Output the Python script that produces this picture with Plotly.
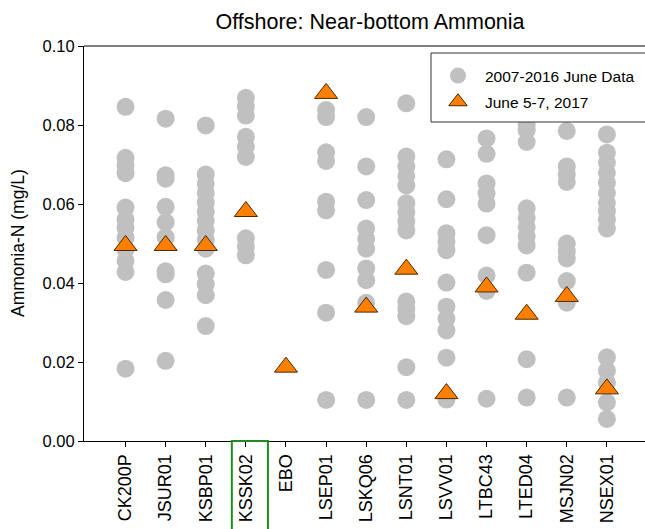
import plotly.graph_objects as go

categories = ["CK200P", "JSUR01", "KSBP01", "KSSK02", "EBO", "LSEP01", "LSKQ06",
              "LSNT01", "LSVV01", "LTBC43", "LTED04", "MSJN02", "NSEX01"]

# 2007-2016 June data (mg/L), per station
hist_CK200P = [0.0846, 0.0717, 0.0698, 0.0678, 0.0591, 0.0561, 0.0540, 0.0515, 0.0485, 0.0456, 0.0428, 0.0183]
hist_JSUR01 = [0.0816, 0.0673, 0.0664, 0.0593, 0.0554, 0.0516, 0.0430, 0.0422, 0.0357, 0.0203]
hist_KSBP01 = [0.0799, 0.0675, 0.0651, 0.0628, 0.0604, 0.0581, 0.0557, 0.0533, 0.0510, 0.0487,
               0.0424, 0.0397, 0.0369, 0.0291]
hist_KSSK02 = [0.0869, 0.0847, 0.0824, 0.0770, 0.0745, 0.0719, 0.0513, 0.0492, 0.0470]
hist_EBO = []
hist_LSEP01 = [0.0838, 0.0820, 0.0731, 0.0709, 0.0606, 0.0584, 0.0433, 0.0325, 0.0104]
hist_LSKQ06 = [0.0820, 0.0695, 0.0610, 0.0538, 0.0512, 0.0487, 0.0437, 0.0407, 0.0350, 0.0104]
hist_LSNT01 = [0.0855, 0.0720, 0.0695, 0.0671, 0.0647, 0.0602, 0.0579, 0.0556, 0.0533,
               0.0353, 0.0334, 0.0316, 0.0187, 0.0104]
hist_LSVV01 = [0.0713, 0.0612, 0.0526, 0.0505, 0.0483, 0.0401, 0.0340, 0.0310, 0.0280, 0.0211, 0.0105]
hist_LTBC43 = [0.0766, 0.0727, 0.0652, 0.0627, 0.0601, 0.0521, 0.0419, 0.0380, 0.0107]
hist_LTED04 = [0.0800, 0.0787, 0.0757, 0.0589, 0.0565, 0.0542, 0.0518, 0.0495, 0.0426, 0.0207, 0.0110]
hist_MSJN02 = [0.0785, 0.0695, 0.0675, 0.0656, 0.0500, 0.0481, 0.0462, 0.0405, 0.0350, 0.0110]
hist_NSEX01 = [0.0776, 0.0730, 0.0705, 0.0679, 0.0654, 0.0628, 0.0603, 0.0582, 0.0561, 0.0538,
               0.0212, 0.0178, 0.0148, 0.0098, 0.0056]

# June 5-7, 2017 values (mg/L)
june2017 = [0.0495, 0.0495, 0.0495, 0.0581, 0.0187, 0.0880, 0.0339,
            0.0435, 0.0120, 0.0390, 0.0321, 0.0366, 0.0132]

hist_all = [hist_CK200P, hist_JSUR01, hist_KSBP01, hist_KSSK02, hist_EBO, hist_LSEP01,
            hist_LSKQ06, hist_LSNT01, hist_LSVV01, hist_LTBC43, hist_LTED04, hist_MSJN02,
            hist_NSEX01]

hx, hy = [], []
for i, vals in enumerate(hist_all):
    for v in vals:
        hx.append(i)
        hy.append(v)

FONT = "Arial, 'Liberation Sans', sans-serif"

fig = go.Figure()
fig.add_trace(go.Scatter(
    x=hx, y=hy, mode="markers", name="2007-2016 June Data", legendgroup="a",
    marker=dict(symbol="circle", size=18, color="#c0c0c0", line=dict(width=0)),
))
fig.add_trace(go.Scatter(
    x=list(range(len(categories))), y=june2017, mode="markers", name="June 5-7, 2017",
    legendgroup="b",
    marker=dict(symbol="triangle-up", size=20, color="#ff8000",
                line=dict(width=1, color="#4a2800")),
))

fig.update_layout(
    width=645, height=529,
    margin=dict(l=84, r=0, t=46, b=88),
    paper_bgcolor="white", plot_bgcolor="white",
    font=dict(family=FONT, size=16, color="black"),
    title=dict(text="Offshore: Near-bottom Ammonia", x=370/645, xref="container",
               xanchor="center", y=1 - 21/529, yref="container", yanchor="middle",
               font=dict(family=FONT, size=21.5, color="black")),
    xaxis=dict(range=[-1.035, 12.95], tickmode="array",
               tickvals=list(range(len(categories))), ticktext=categories,
               tickangle=-90, ticks="outside", ticklen=5, tickcolor="black",
               showline=True, linecolor="black", linewidth=1, showgrid=False,
               zeroline=False, tickfont=dict(family=FONT, size=18)),
    yaxis=dict(range=[0, 0.1], tickvals=[0, 0.02, 0.04, 0.06, 0.08, 0.10],
               tickformat=".2f", ticks="outside", ticklen=5, tickcolor="black",
               showline=True, linecolor="black", linewidth=1, showgrid=False,
               zeroline=False, tickfont=dict(family=FONT, size=16.5)),
    showlegend=True,
    legend=dict(x=(431 - 84) / 561, y=(441 - 59) / 395, xanchor="left", yanchor="top",
                bgcolor="rgba(0,0,0,0)", borderwidth=0, tracegroupgap=3,
                font=dict(family=FONT, size=15.5), itemwidth=44),
    annotations=[dict(text="Ammonia-N (mg/L)", x=(18 - 84) / 561, y=(441 - 243) / 395,
                      xref="paper", yref="paper", textangle=-90, showarrow=False,
                      xanchor="center", yanchor="middle",
                      font=dict(family=FONT, size=17.5))],
    shapes=[
        dict(type="line", xref="paper", yref="paper", x0=0, x1=1, y0=1, y1=1,
             line=dict(color="black", width=1)),
        dict(type="rect", xref="paper", yref="paper", layer="above",
             x0=(431 - 84) / 561, x1=1.05, y0=(441 - 122) / 395, y1=(441 - 53) / 395,
             fillcolor="white", line=dict(color="#333333", width=1)),
        dict(type="rect", xref="x", yref="paper", x0=2.65, x1=3.55, y0=0, y1=-0.235,
             line=dict(color="#1e8c1e", width=2)),
    ],
)

fig.write_html("out.html", config={"displayModeBar": False},
               post_script="document.body.style.margin='0';")
